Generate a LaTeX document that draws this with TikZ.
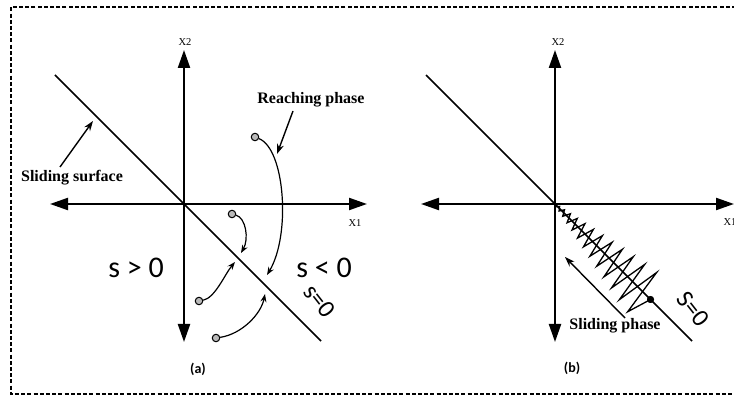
\documentclass[tikz,border=0pt]{standalone}
\usepackage{fontspec}
\setmainfont{Liberation Serif}
\newfontfamily\carlito{Carlito}
\usetikzlibrary{arrows.meta, positioning}

\begin{document}
\begin{tikzpicture}[x=1pt, y=-1pt,
  axis/.style={line width=2.2pt,
    {Triangle[length=18pt,width=12pt]}-{Triangle[length=18pt,width=12pt]}},
  surface/.style={line width=1.6pt},
  traj/.style={line width=1.2pt, -{Stealth[length=8pt,width=6pt]}},
  pointer/.style={line width=1.4pt, -{Stealth[length=10pt,width=7pt]}},
  spring/.style={line width=1.3pt, line join=miter},
  start/.style={circle, draw, line width=1pt, fill=gray!55,
                inner sep=0pt, minimum size=7.5pt},
  hit/.style={circle, fill=black, inner sep=0pt, minimum size=7pt},
  tag/.style={font=\bfseries\fontsize{16}{16}\selectfont, inner sep=1pt},
  region/.style={font=\carlito\fontsize{30}{30}\selectfont},
  sline/.style={font=\carlito\fontsize{25}{25}\selectfont, rotate=-52},
  axlabel/.style={font=\fontsize{10.5}{10.5}\selectfont},
  caption/.style={font=\carlito\bfseries\fontsize{14}{14}\selectfont},
  border/.style={line width=1.4pt, dash pattern=on 4pt off 2.2pt},
]
\useasboundingbox (0,0) rectangle (734,403);

% ---- frame ----
\draw[border] (736,7) -- (11,7) -- (11,394) -- (736,394);

% ================= (a) reaching phase =================
\coordinate (aO) at (184,204);
\draw[axis] (184,342) -- (184,50);
\draw[axis] (50,204) -- (367,204);
\node[axlabel] (ax2) at (185,42) {X2};
\node[axlabel] (ax1) at (355,223) {X1};

% sliding surface s=0
\coordinate (aA) at (55,75);
\coordinate (aB) at (321,341);
\draw[surface] (aA) -- (aB);

% initial states
\node[start] (c1) at (255,137) {};
\node[start] (c2) at (232,214) {};
\node[start] (c3) at (199,301) {};
\node[start] (c4) at (216,338) {};
\coordinate (e1) at (267,275);
\coordinate (e2) at (241,253);
\coordinate (e3) at (235,262);
\coordinate (e4) at (265,294);

\draw[traj] (c1) .. controls +(30,12) and +(24,-40) .. (e1);
\draw[traj] (c2) .. controls +(14,4) and +(8,-14) .. (e2);
\draw[traj] (c3) .. controls +(16,-3) and +(-10,12) .. (e3);
\draw[traj] (c4) .. controls +(26,-4) and +(-4,20) .. (e4);

% labels
\node[tag] (lsurf) at (72,178) {Sliding surface};
\coordinate (tsurf) at (60,167);
\coordinate (psurf) at (93,121);
\draw[pointer] (tsurf) -- (psurf);

\node[tag] (lreach) at (311,100) {Reaching phase};
\coordinate (treach) at (293,111);
\coordinate (preach) at (277,154);
\draw[pointer] (treach) -- (preach);

\node[region] (gpos) at (136,268) {s > 0};
\node[region] (gneg) at (324,268) {s < 0};
\node[sline] (sa) at (320,301) {s=0};
\node[caption] (capa) at (198,369) {(a)};

% ================= (b) sliding phase =================
\begin{scope}[xshift=371pt]
\coordinate (bO) at (184,204);
\draw[axis] (184,342) -- (184,50);
\draw[axis] (50,204) -- (363,204);
\node[axlabel] (bx2) at (187,42) {X2};
\node[axlabel] (bx1) at (359,222) {X1};

\coordinate (bA) at (55,75);
\coordinate (bB) at (321,341);
\draw[surface] (bA) -- (bB);

% chattering along s=0
\node[hit] (bdot) at (279.5,299.5) {};
\draw[spring] (bdot.center)
  \foreach \i [evaluate=\i as \tk using {135*((27-\i)/27)^1.5},
               evaluate=\i as \ak using {0.6+0.19*\tk},
               evaluate=\i as \sg using {mod(\i,2)==0 ? 1 : -1}] in {1,...,26}
  { -- ({184+0.7071*(\tk+\sg*\ak)}, {204+0.7071*(\tk-\sg*\ak)}) }
  -- (bO);
\node[hit] at (bdot) {};

\coordinate (pslide0) at (254,318);
\coordinate (pslide1) at (194,257);
\draw[pointer] (pslide0) -- (pslide1);
\node[tag] (lslide) at (244,326) {Sliding phase};

\node[sline] (sb) at (322,309) {S=0};
\node[caption] (capb) at (201,368) {(b)};
\end{scope}
\end{tikzpicture}
\end{document}
